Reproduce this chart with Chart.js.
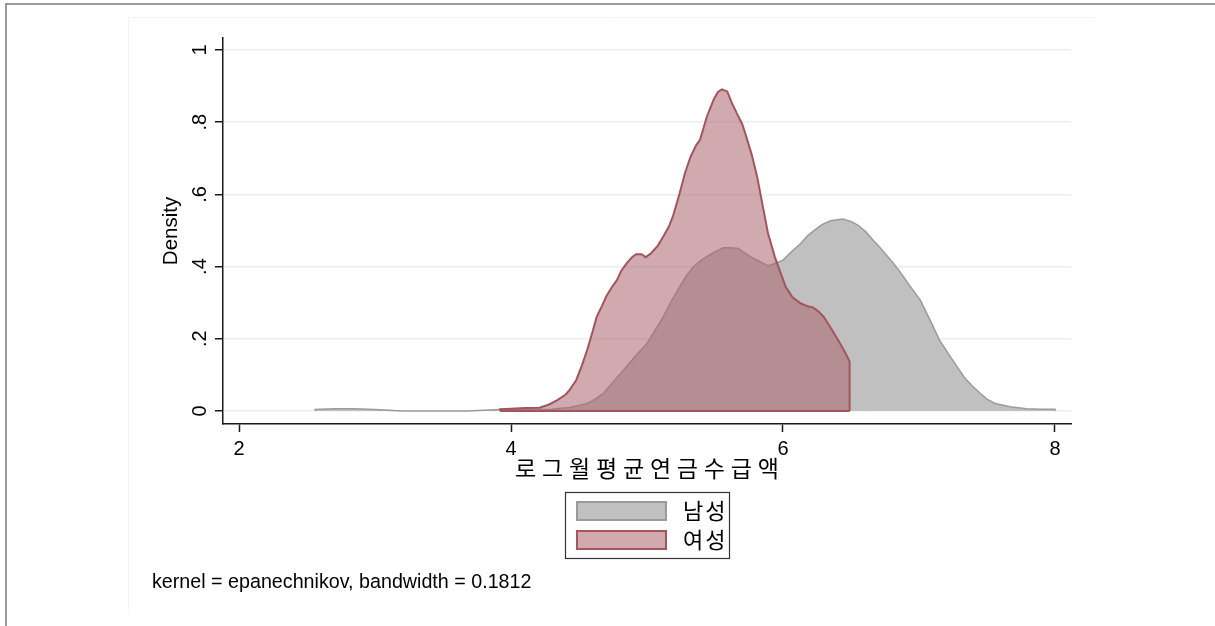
<!DOCTYPE html>
<html><head><meta charset="utf-8">
<script src="https://cdn.jsdelivr.net/npm/chart.js@4/dist/chart.umd.min.js"></script>
<style>html,body{margin:0;padding:0;background:#fff;overflow:hidden}#wrap{position:relative;width:1215px;height:626px}</style>
</head><body><div id="wrap"><canvas id="c" width="1215" height="626"></canvas></div>
<script>
// ---- data ----
const seriesNames = ['남성', '여성'];
const maleX = [2.56,2.56,2.7,2.85,3.0,3.1,3.2,3.67,3.8,3.92,4.1,4.3,4.43,4.50,4.56,4.62,4.68,4.75,4.83,4.91,5.00,5.06,5.12,5.18,5.24,5.29,5.34,5.40,5.46,5.51,5.56,5.62,5.67,5.73,5.78,5.84,5.89,5.95,6.00,6.06,6.13,6.18,6.24,6.29,6.35,6.44,6.50,6.55,6.61,6.66,6.71,6.76,6.81,6.86,6.93,7.01,7.08,7.15,7.24,7.33,7.39,7.45,7.50,7.56,7.67,7.79,7.90,8.0,8.0];
const maleY = [0,0.004,0.006,0.006,0.004,0.002,0,0,0.002,0.004,0.004,0.005,0.010,0.015,0.021,0.033,0.049,0.080,0.114,0.150,0.187,0.224,0.261,0.305,0.344,0.375,0.399,0.418,0.432,0.443,0.452,0.452,0.450,0.435,0.423,0.412,0.402,0.410,0.418,0.440,0.464,0.485,0.503,0.517,0.527,0.532,0.525,0.515,0.496,0.474,0.454,0.432,0.410,0.386,0.348,0.307,0.253,0.197,0.145,0.095,0.070,0.049,0.033,0.021,0.012,0.006,0.005,0.005,0];
const femaleX = [3.92,3.92,4.0,4.1,4.21,4.28,4.34,4.40,4.43,4.48,4.52,4.56,4.60,4.63,4.67,4.70,4.74,4.78,4.81,4.85,4.89,4.92,4.96,4.99,5.03,5.08,5.12,5.16,5.19,5.24,5.28,5.32,5.36,5.39,5.44,5.49,5.52,5.55,5.59,5.62,5.66,5.70,5.73,5.77,5.81,5.85,5.89,5.94,5.98,6.02,6.07,6.13,6.18,6.22,6.26,6.30,6.36,6.42,6.46,6.49,6.49];
const femaleY = [0,0.005,0.006,0.008,0.009,0.018,0.030,0.045,0.058,0.086,0.125,0.169,0.220,0.261,0.292,0.317,0.342,0.363,0.388,0.409,0.426,0.434,0.434,0.426,0.437,0.458,0.483,0.510,0.538,0.603,0.660,0.704,0.735,0.751,0.815,0.862,0.883,0.891,0.885,0.857,0.825,0.795,0.760,0.710,0.649,0.570,0.492,0.427,0.385,0.344,0.315,0.298,0.290,0.287,0.276,0.261,0.225,0.187,0.160,0.137,0];
const xTicks = [2, 4, 6, 8];
const xTickLabels = ['2', '4', '6', '8'];
const yTicks = [0, 0.2, 0.4, 0.6, 0.8, 1];
const yTickLabels = ['0', '.2', '.4', '.6', '.8', '1'];
const xTitle = '로그월평균연금수급액';
const yTitle = 'Density';
const noteText = 'kernel = epanechnikov, bandwidth = 0.1812';

// ---- styles ----
const MALE_FILL = '#c0c0c0', MALE_LINE = '#9b9b9b';
const FEMALE_FILL = 'rgba(170,100,108,0.55)', FEMALE_LINE = '#a3555d';
const LATIN = "'Liberation Sans', Arial, sans-serif";
const KR = "'Noto Sans CJK KR', sans-serif";
Chart.defaults.font.family = LATIN;

function pts(xs, ys) { return xs.map((x, i) => ({x: x, y: ys[i]})); }

const deco = {
  id: 'deco',
  beforeDraw(chart) {
    const c = chart.ctx; c.save();
    c.fillStyle = '#fff'; c.fillRect(0, 0, chart.width, chart.height);
    c.strokeStyle = '#f2f4f4'; c.lineWidth = 1;
    c.beginPath(); c.moveTo(128.5, 610); c.lineTo(128.5, 17.5); c.lineTo(1095, 17.5); c.stroke();
    c.strokeStyle = '#9a9a9a'; c.lineWidth = 2;
    c.beginPath(); c.moveTo(6, 626); c.lineTo(6, 4); c.lineTo(1215, 4); c.stroke();
    c.restore();
  },
  afterDraw(chart) {
    const c = chart.ctx, a = chart.chartArea;
    c.save();
    // x-axis title
    const sp = 5.8;
    c.fillStyle = '#000'; c.font = '23px ' + KR; c.textBaseline = 'middle'; c.textAlign = 'left';
    c.letterSpacing = sp + 'px';
    const w = c.measureText(xTitle).width - sp;
    c.fillText(xTitle, (a.left + a.right) / 2 - w / 2, 468);
    // legend
    c.letterSpacing = '2px';
    c.strokeStyle = '#333'; c.lineWidth = 1.2;
    c.strokeRect(565.5, 492.5, 164, 66);
    const items = [{label: seriesNames[0], fill: MALE_FILL, line: MALE_LINE, y: 502},
                   {label: seriesNames[1], fill: FEMALE_FILL, line: FEMALE_LINE, y: 531}];
    items.forEach(it => {
      c.fillStyle = it.fill; c.fillRect(577, it.y, 89, 18);
      c.strokeStyle = it.line; c.lineWidth = 2; c.strokeRect(577, it.y, 89, 18);
      c.fillStyle = '#000'; c.font = '22px ' + KR; c.textBaseline = 'middle';
      c.fillText(it.label, 683, it.y + 9);
    });
    // note
    c.letterSpacing = '0px';
    c.fillStyle = '#000'; c.font = '19.7px ' + LATIN; c.textBaseline = 'alphabetic';
    c.fillText(noteText, 152, 588);
    c.restore();
  }
};

new Chart(document.getElementById('c'), {
  type: 'line',
  data: {
    datasets: [
      {label: seriesNames[1], data: pts(femaleX, femaleY), order: 1, fill: 'origin',
       backgroundColor: FEMALE_FILL, borderColor: FEMALE_LINE, borderWidth: 2, pointRadius: 0, tension: 0},
      {label: '', data: [{x: femaleX[0], y: 0}, {x: femaleX[femaleX.length - 1], y: 0}], order: 0, fill: false,
       borderColor: FEMALE_LINE, borderWidth: 2, pointRadius: 0},
      {label: seriesNames[0], data: pts(maleX, maleY), order: 2, fill: 'origin',
       backgroundColor: MALE_FILL, borderColor: MALE_LINE, borderWidth: 1.5, pointRadius: 0, tension: 0}
    ]
  },
  options: {
    responsive: false, animation: false, devicePixelRatio: 1,
    layout: {padding: {left: 150, right: 144, top: 38, bottom: 146}},
    plugins: {legend: {display: false}, tooltip: {enabled: false}, title: {display: false}},
    scales: {
      x: {
        type: 'linear', min: 1.882, max: 8.118,
        afterBuildTicks: s => { s.ticks = xTicks.map(v => ({value: v})); },
        afterFit: s => { s.height = 56; },
        border: {display: true, color: '#1a1a1a', width: 1.5},
        grid: {drawOnChartArea: false, drawTicks: true, tickLength: 8, tickColor: '#1a1a1a', tickWidth: 1.5},
        ticks: {font: {family: LATIN, size: 20}, color: '#000', padding: 5, maxRotation: 0, autoSkip: false,
                callback: v => xTickLabels[xTicks.indexOf(v)]},
        title: {display: false}
      },
      y: {
        type: 'linear', min: -0.036, max: 1.033,
        afterBuildTicks: s => { s.ticks = yTicks.map(v => ({value: v})); },
        afterFit: s => { s.width = 73; },
        border: {display: true, color: '#1a1a1a', width: 1.5},
        grid: {color: '#e8eff1', lineWidth: 1.5, drawTicks: true, tickLength: 8, tickColor: '#1a1a1a', tickWidth: 1.5},
        ticks: {font: {family: LATIN, size: 20}, color: '#000', padding: 6, minRotation: 90, maxRotation: 90,
                crossAlign: 'center', autoSkip: false, callback: v => yTickLabels[yTicks.indexOf(v)]},
        title: {display: true, text: yTitle, font: {family: LATIN, size: 20.5}, color: '#000', padding: {top: 9, bottom: 0}}
      }
    }
  },
  plugins: [deco]
});
</script></body></html>
